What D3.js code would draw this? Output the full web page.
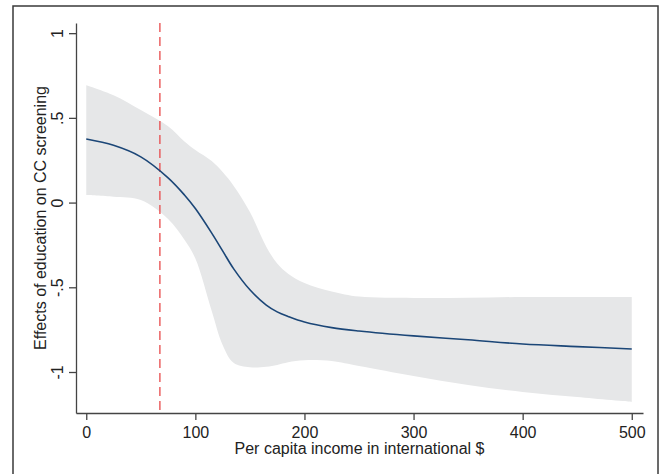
<!DOCTYPE html>
<html>
<head>
<meta charset="utf-8">
<script src="https://cdn.jsdelivr.net/npm/d3@7"></script>
<style>
  body { margin: 0; background: #fff; }
  svg { display: block; }
</style>
</head>
<body>
<div id="chart"></div>
<script>
// values
var income = [0, 25, 50, 75, 90, 100, 115, 125, 135, 150, 165, 175, 185, 200, 225, 250, 300, 350, 400, 450, 500];
var effect = [0.375, 0.338, 0.27, 0.146, 0.045, -0.035, -0.18, -0.285, -0.39, -0.515, -0.605, -0.645, -0.672, -0.705, -0.738, -0.758, -0.787, -0.81, -0.835, -0.85, -0.864];
var ciHigh = [0.693, 0.634, 0.546, 0.45, 0.36, 0.31, 0.245, 0.18, 0.10, -0.056, -0.26, -0.36, -0.42, -0.475, -0.525, -0.555, -0.563, -0.562, -0.557, -0.557, -0.557];
var ciLow = [0.045, 0.035, 0.015, -0.097, -0.22, -0.33, -0.64, -0.84, -0.945, -0.972, -0.969, -0.958, -0.942, -0.93, -0.935, -0.965, -1.024, -1.077, -1.118, -1.148, -1.177];
var xTicks = [0, 100, 200, 300, 400, 500];
var yTicks = [1, 0.5, 0, -0.5, -1];
var yTickLabels = ["1", ".5", "0", "-.5", "-1"];
var threshold = 67.5;

var width = 659, height = 474;
var font = "Arial, 'Liberation Sans', Helvetica, sans-serif";

var x = d3.scaleLinear()
    .domain([-9.4, 510.3])
    .range([76, 643]);

var y = d3.scaleLinear()
    .domain([-1.242, 1.06])
    .range([413, 23]);

var data = income.map(function(d, i) {
    return { x: d, y: effect[i], lo: ciLow[i], hi: ciHigh[i] };
});

var svg = d3.select("#chart").append("svg")
    .attr("width", width)
    .attr("height", height);

// outer frame
svg.append("rect")
    .attr("x", 13)
    .attr("y", 6)
    .attr("width", 645)
    .attr("height", 520)
    .attr("fill", "none")
    .attr("stroke", "#3a3a3a")
    .attr("stroke-width", 1.5);

// confidence band
var band = d3.area()
    .x(function(d) { return x(d.x); })
    .y0(function(d) { return y(d.lo); })
    .y1(function(d) { return y(d.hi); })
    .curve(d3.curveCatmullRom.alpha(0.5));

svg.append("path")
    .datum(data)
    .attr("d", band)
    .attr("fill", "#e6e7e8");

// threshold line
svg.append("line")
    .attr("x1", x(threshold))
    .attr("x2", x(threshold))
    .attr("y1", y.range()[1])
    .attr("y2", y.range()[0])
    .attr("stroke", "#e8494a")
    .attr("stroke-width", 1.3)
    .attr("stroke-dasharray", "9,5");

// effect line
var line = d3.line()
    .x(function(d) { return x(d.x); })
    .y(function(d) { return y(d.y); })
    .curve(d3.curveCatmullRom.alpha(0.5));

svg.append("path")
    .datum(data)
    .attr("d", line)
    .attr("fill", "none")
    .attr("stroke", "#1b4677")
    .attr("stroke-width", 1.6);

function styleAxis(g) {
    g.selectAll(".domain").attr("stroke", "#444").attr("stroke-width", 1.3);
    g.selectAll(".tick line").attr("stroke", "#444").attr("stroke-width", 1.3);
    g.selectAll(".tick text").attr("fill", "#222");
}

var xAxis = d3.axisBottom(x)
    .tickValues(xTicks)
    .tickSize(7)
    .tickSizeOuter(0)
    .tickPadding(7);

svg.append("g")
    .attr("transform", "translate(0," + y.range()[0] + ")")
    .style("font-family", font)
    .style("font-size", "16px")
    .call(xAxis)
    .call(styleAxis);

var yAxis = d3.axisLeft(y)
    .tickValues(yTicks)
    .tickSize(7)
    .tickSizeOuter(0)
    .tickFormat(function(d, i) { return yTickLabels[i]; });

var gy = svg.append("g")
    .attr("transform", "translate(" + x.range()[0] + ",0)")
    .style("font-family", font)
    .style("font-size", "16px")
    .call(yAxis)
    .call(styleAxis);

gy.selectAll(".tick text")
    .attr("x", 0)
    .attr("y", 0)
    .attr("dy", 0)
    .attr("text-anchor", "middle")
    .attr("transform", "translate(-13,0) rotate(-90)");

// axis titles
svg.append("text")
    .attr("x", (x.range()[0] + x.range()[1]) / 2)
    .attr("y", 454)
    .attr("text-anchor", "middle")
    .style("font-family", font)
    .style("font-size", "16px")
    .attr("fill", "#222")
    .text("Per capita income in international $");

svg.append("text")
    .attr("transform", "translate(46," + ((y.range()[0] + y.range()[1]) / 2) + ") rotate(-90)")
    .attr("text-anchor", "middle")
    .style("font-family", font)
    .style("font-size", "16px")
    .attr("fill", "#222")
    .text("Effects of education on CC screening");
</script>
</body>
</html>
